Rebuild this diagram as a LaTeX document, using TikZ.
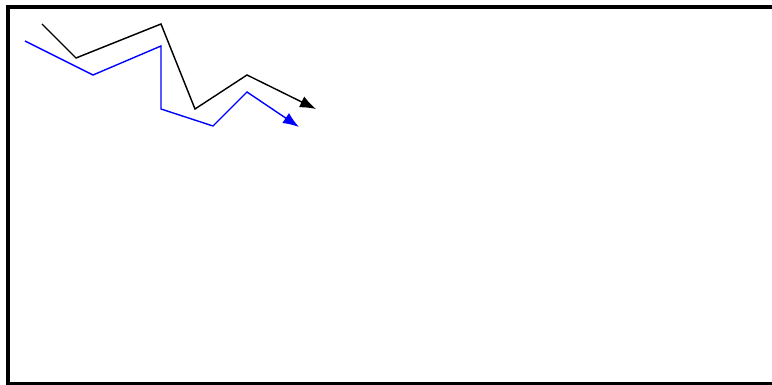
\documentclass[tikz,border=0pt]{standalone}
\usetikzlibrary{arrows.meta}
\begin{document}
\begin{tikzpicture}[x=1pt,y=-1pt,
  frame/.style={line width=4.5pt,draw=black},
  trail/.style={line width=1.4pt,line join=miter,-{Latex[length=16pt,width=12pt]}}]
\useasboundingbox (0,0) rectangle (772,385);
\begin{scope}
\clip (0,0) rectangle (772,385);
\draw[frame] (8,7) rectangle (774.5,384);
\end{scope}
% black path
\coordinate (b1) at (42,24);
\coordinate (b2) at (76,58);
\coordinate (b3) at (161,24);
\coordinate (b4) at (195,109);
\coordinate (b5) at (247,75);
\coordinate (b6) at (316,109);
\draw[trail,black] (b1) -- (b2) -- (b3) -- (b4) -- (b5) -- (b6);
% blue path
\coordinate (u1) at (25,41);
\coordinate (u2) at (93,75);
\coordinate (u3) at (161,46);
\coordinate (u4) at (161,109);
\coordinate (u5) at (213,126);
\coordinate (u6) at (247,92);
\coordinate (u7) at (299,127);
\draw[trail,blue] (u1) -- (u2) -- (u3) -- (u4) -- (u5) -- (u6) -- (u7);
\end{tikzpicture}
\end{document}
